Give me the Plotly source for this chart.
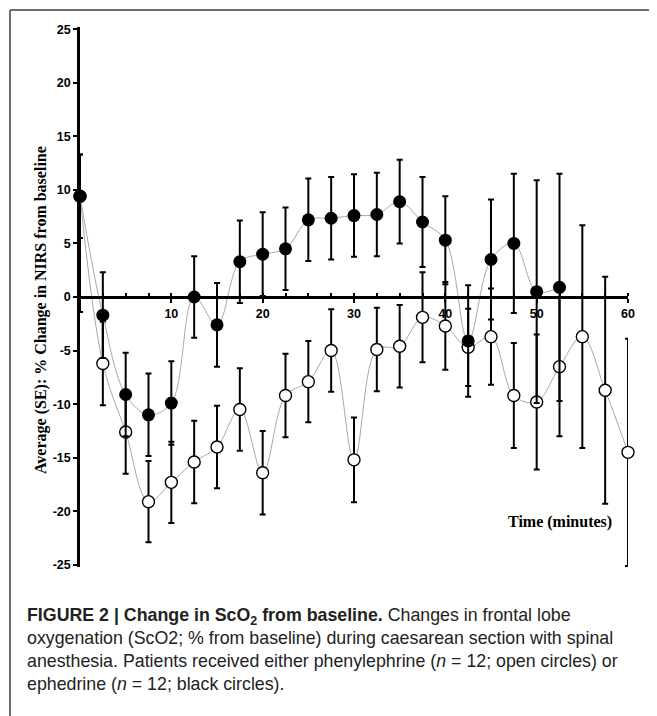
import plotly.graph_objects as go

# ---- data ----
time_min = [0, 2.5, 5, 7.5, 10, 12.5, 15, 17.5, 20, 22.5, 25, 27.5, 30,
            32.5, 35, 37.5, 40, 42.5, 45, 47.5, 50, 52.5, 55, 57.5, 60]

# phenylephrine (open circles)
phenyl_mean = [9.4, -6.2, -12.6, -19.1, -17.3, -15.4, -14.0, -10.5, -16.4, -9.2,
               -7.9, -5.0, -15.2, -4.9, -4.6, -1.9, -2.7, -4.7, -3.7, -9.2,
               -9.8, -6.5, -3.7, -8.7, -14.5]
phenyl_se_up = [3.9, 3.9, 3.9, 3.8, 3.8, 3.85, 3.85, 3.85, 3.9, 3.9,
                3.8, 3.85, 3.95, 3.9, 3.85, 4.2, 4.1, 3.6, 4.5, 4.9,
                6.3, 6.5, 10.4, 10.6, 10.6]
phenyl_se_down = [10.8, 3.9, 3.9, 3.8, 3.8, 3.85, 3.85, 3.85, 3.9, 3.9,
                  3.8, 3.85, 3.95, 3.9, 3.85, 4.2, 4.1, 3.6, 4.5, 4.9,
                  6.3, 6.5, 10.4, 10.6, 10.6]

# ephedrine (black circles)
ephed_time = time_min[:22]
ephed_mean = [9.4, -1.7, -9.1, -11.0, -9.9, 0.0, -2.6, 3.3, 4.0, 4.5,
              7.2, 7.35, 7.6, 7.7, 8.9, 7.0, 5.3, -4.1, 3.5, 5.0,
              0.5, 0.9]
ephed_se = [3.9, 4.0, 3.9, 3.85, 3.9, 3.8, 3.9, 3.85, 3.9, 3.85,
            3.85, 3.85, 3.85, 3.9, 3.9, 4.2, 4.1, 5.2, 5.6, 6.5,
            10.4, 10.6]

y_ticks = [-25, -20, -15, -10, -5, 0, 5, 10, 15, 20, 25]
y_ticktext = [str(v) for v in y_ticks]
x_ticks = [10, 20, 30, 40, 50, 60]

# the page body has an 8px margin, so the figure is 8px smaller
OFF = 8
W, H = 657 - OFF, 716 - OFF
ML, MR, MT, MB = 80 - OFF, 29, 27 - OFF, 149
PW, PH = W - ML - MR, H - MT - MB


def px(xp):  # page pixel x -> paper coordinate
    return (xp - OFF - ML) / PW


def py(yp):  # page pixel y -> paper coordinate
    return (H - MB - (yp - OFF)) / PH


fig = go.Figure()

fig.add_trace(go.Scatter(
    x=time_min, y=phenyl_mean, mode="lines+markers",
    line=dict(shape="spline", smoothing=1, color="#a8a8a8", width=1),
    marker=dict(symbol="circle", size=12, color="white",
                line=dict(color="black", width=1.4)),
    error_y=dict(type="data", symmetric=False, array=phenyl_se_up,
                 arrayminus=phenyl_se_down, color="black", thickness=2, width=3),
    cliponaxis=False, showlegend=False, name="Phenylephrine"))

fig.add_trace(go.Scatter(
    x=ephed_time, y=ephed_mean, mode="lines+markers",
    line=dict(shape="spline", smoothing=1, color="#a8a8a8", width=1),
    marker=dict(symbol="circle", size=13, color="black",
                line=dict(color="black", width=0)),
    error_y=dict(type="data", array=ephed_se, color="black", thickness=2, width=3),
    cliponaxis=False, showlegend=False, name="Ephedrine"))

tickfont = dict(family="Arial, Liberation Sans, sans-serif", size=12.5,
                color="black", weight="bold")

# figure frame (top and left edges of a box that runs off the page)
frame = dict(color="#6e6e6e", width=2)
FX, FY = 10, 10
frame_shapes = [
    dict(type="line", xref="paper", yref="paper", layer="above",
         x0=px(FX), y0=py(FY), x1=px(657), y1=py(FY), line=frame),
    dict(type="line", xref="paper", yref="paper", layer="above",
         x0=px(FX), y0=py(FY), x1=px(FX), y1=py(716), line=frame),
]

fig.update_layout(
    width=W, height=H,
    margin=dict(l=ML, r=MR, t=MT, b=MB),
    paper_bgcolor="white", plot_bgcolor="white",
    shapes=frame_shapes,
    xaxis=dict(range=[0, 60], anchor="free", position=0.5,
               showline=True, linecolor="black", linewidth=2.5,
               tickmode="array", tickvals=x_ticks,
               ticks="outside", ticklen=4, tickwidth=2, tickcolor="black",
               minor=dict(tickmode="linear", tick0=0, dtick=2.5, ticks="inside",
                          ticklen=3, tickwidth=2, tickcolor="black"),
               tickfont=tickfont, showgrid=False, zeroline=False),
    yaxis=dict(range=[-25.2, 25.2], tickmode="array", tickvals=y_ticks,
               ticktext=y_ticktext,
               showline=True, linecolor="black", linewidth=2.5,
               ticks="outside", ticklen=4, tickwidth=2, tickcolor="black",
               tickfont=tickfont, showgrid=False, zeroline=False),
)

serif = "Times New Roman, Liberation Serif, serif"
fig.add_annotation(
    text="Average (SE): % Change in NIRS from baseline",
    xref="paper", yref="paper", x=px(41), y=py(310),
    xanchor="center", yanchor="middle", textangle=-90, showarrow=False,
    font=dict(family=serif, size=16, color="black", weight="bold"))

fig.add_annotation(
    text="Time (minutes)",
    xref="paper", yref="paper", x=px(560), y=py(522),
    xanchor="center", yanchor="middle", showarrow=False,
    font=dict(family=serif, size=16, color="black", weight="bold"))

caption = ("<b>FIGURE 2 | Change in ScO<sub>2</sub> from baseline.</b> Changes in frontal lobe<br>"
           "oxygenation (ScO2; % from baseline) during caesarean section with spinal<br>"
           "anesthesia. Patients received either phenylephrine (<i>n</i> = 12; open circles) or<br>"
           "ephedrine (<i>n</i> = 12; black circles).")
fig.add_annotation(
    text=caption, xref="paper", yref="paper", x=px(25), y=py(603),
    xanchor="left", yanchor="top", align="left", showarrow=False,
    font=dict(family="Arial, Liberation Sans, sans-serif", size=17.8, color="#222"))

fig.write_html("out.html", config={"displayModeBar": False})
